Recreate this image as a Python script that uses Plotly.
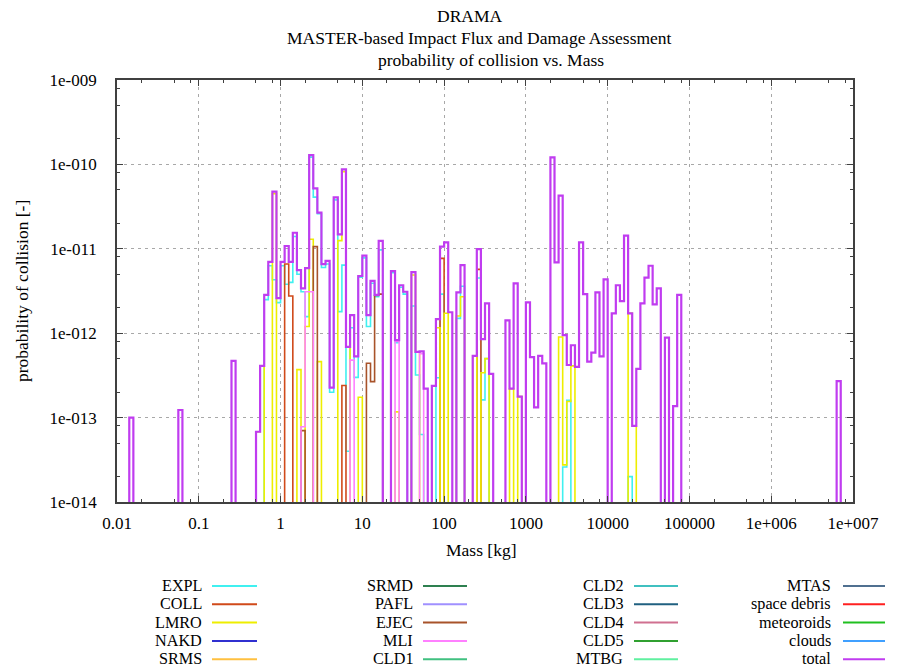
import numpy as np
import plotly.graph_objects as go

# ---------------- data ----------------
# Mass histogram: 20 logarithmic bins per decade, first bin starts at 0.01 kg.
# Each series is a list of (bin index, probability of collision [-]); empty bins = 0.
BINS_PER_DECADE = 20
MASS_MIN = 0.01
N_BINS = 180

total = [(3, 1.0e-13), (15, 1.23e-13), (28, 4.7e-13), (34, 6.8e-14), (35, 4.1e-13),
         (36, 2.84e-12), (37, 7.0e-12), (38, 4.75e-11), (39, 2.6e-12), (40, 7.0e-12),
         (41, 1.08e-11), (42, 7.0e-12), (43, 1.55e-11), (44, 5.6e-12), (45, 3.4e-12),
         (46, 5.9e-12), (47, 1.29e-10), (48, 5.2e-11), (49, 2.68e-11), (50, 6.6e-12),
         (51, 7.2e-12), (52, 2.26e-13), (53, 4.07e-11), (54, 1.48e-11), (55, 8.75e-11),
         (56, 6.9e-13), (57, 1.64e-12), (58, 5.3e-13), (59, 4.76e-12), (60, 8.3e-12),
         (61, 1.64e-12), (62, 4.16e-12), (63, 2.84e-12), (64, 1.24e-11), (67, 5.45e-12),
         (68, 8.3e-13), (69, 3.7e-12), (70, 3.1e-12), (72, 5.3e-12), (73, 6.0e-13),
         (74, 6.1e-13), (75, 2.2e-13), (77, 2.37e-13), (78, 1.47e-12), (79, 1.06e-11),
         (80, 1.19e-11), (81, 1.77e-12), (83, 3.05e-12), (84, 6.4e-12), (87, 5.4e-13),
         (88, 9.9e-12), (89, 8.5e-13), (90, 2.26e-12), (91, 3.3e-13), (95, 1.42e-12),
         (96, 2.2e-13), (97, 3.9e-12), (98, 1.77e-13), (100, 2.32e-12), (101, 5.2e-13),
         (102, 1.32e-13), (103, 5.4e-13), (104, 4.4e-13), (106, 1.21e-10), (107, 6.9e-12),
         (108, 4.26e-11), (109, 9.5e-13), (110, 4.2e-13), (111, 7.2e-13), (112, 4.0e-13),
         (113, 1.19e-11), (114, 2.9e-12), (115, 4.6e-13), (116, 5.9e-13), (117, 3.05e-12),
         (118, 5.3e-13), (119, 4.35e-12), (121, 1.72e-12), (122, 3.7e-12), (123, 2.4e-12),
         (124, 1.43e-11), (125, 1.72e-12), (126, 8.0e-14), (127, 3.77e-13), (128, 2.26e-12),
         (129, 4.55e-12), (130, 6.3e-12), (131, 2.2e-12), (132, 3.4e-12), (134, 8.85e-13),
         (136, 1.37e-13), (137, 2.84e-12), (176, 2.7e-13)]

expl = [(36, 2.5e-12), (37, 6.3e-12), (38, 4.3e-12), (39, 2.3e-12), (40, 6.3e-12),
        (41, 3.8e-12), (42, 4.0e-12), (43, 1.4e-11), (44, 5.0e-12), (45, 3.1e-12),
        (46, 1.57e-12), (47, 1.22e-10), (48, 4.1e-11), (49, 2.6e-11), (50, 6.0e-12),
        (51, 6.6e-12), (52, 2.0e-13), (53, 3.8e-11), (54, 1.8e-12), (55, 6.4e-12),
        (56, 4.0e-14), (57, 1.16e-12), (58, 3.0e-13), (59, 4.6e-12), (60, 7.8e-12),
        (61, 1.2e-12), (62, 3.9e-12), (63, 2.7e-12), (64, 9.7e-12), (67, 5.2e-12),
        (68, 7.7e-13), (69, 3.5e-12), (70, 2.9e-12), (72, 2.1e-12), (73, 3.2e-13),
        (74, 6.3e-14), (78, 2.97e-13), (79, 2.9e-12), (83, 1.5e-12), (84, 3.6e-12),
        (88, 4.5e-12), (89, 1.62e-13), (90, 5.0e-13), (109, 2.6e-14), (110, 1.6e-13),
        (125, 2.0e-14)]

coll = [(41, 6.6e-12), (42, 2.76e-12), (55, 2.4e-13), (79, 7.7e-12), (88, 5.7e-12)]

lmro = [(34, 6.8e-14), (35, 4.1e-13), (38, 4.5e-11), (44, 3.7e-13), (46, 1.2e-12),
        (47, 1.3e-11), (49, 4.6e-13), (54, 1.25e-11), (55, 8.2e-11), (56, 6.9e-13),
        (59, 1.74e-13), (68, 1.17e-13), (72, 4.9e-12), (73, 6.0e-13), (77, 2.37e-13),
        (78, 1.16e-12), (80, 1.72e-12), (83, 1.6e-12), (84, 2.7e-12), (87, 5.4e-13),
        (89, 3.4e-13), (90, 5.0e-13), (96, 2.2e-13), (98, 1.77e-13), (108, 9.0e-13),
        (109, 2.75e-14), (110, 1.55e-13), (111, 4.1e-13), (125, 1.72e-12), (126, 8.0e-14)]

ejec = [(45, 7.0e-14), (48, 1.06e-11), (61, 4.4e-13), (62, 2.67e-13), (63, 2.8e-12),
        (64, 2.9e-12)]

mli = [(45, 7.8e-14), (46, 3.1e-12), (47, 3.1e-12), (57, 4.8e-13), (68, 8.0e-13),
       (74, 5.7e-13)]

x_ticks = [0.01, 0.1, 1, 10, 100, 1000, 10000, 100000, 1e6, 1e7]
x_ticktext = ["0.01", "0.1", "1", "10", "100", "1000", "10000", "100000", "1e+006", "1e+007"]
y_ticks = [1e-14, 1e-13, 1e-12, 1e-11, 1e-10, 1e-9]
y_ticktext = ["1e-014", "1e-013", "1e-012", "1e-011", "1e-010", "1e-009"]

legend_names = [["EXPL", "COLL", "LMRO", "NAKD", "SRMS"],
                ["SRMD", "PAFL", "EJEC", "MLI", "CLD1"],
                ["CLD2", "CLD3", "CLD4", "CLD5", "MTBG"],
                ["MTAS", "space debris", "meteoroids", "clouds", "total"]]
colors = {"EXPL": "#40f0f0", "COLL": "#d04a1a", "LMRO": "#eeee00", "NAKD": "#3030d0",
          "SRMS": "#ffc040", "SRMD": "#2e8050", "PAFL": "#a090ff", "EJEC": "#a8532a",
          "MLI": "#ff80ff", "CLD1": "#40c080", "CLD2": "#40c0c0", "CLD3": "#206080",
          "CLD4": "#d07090", "CLD5": "#30a030", "MTBG": "#60f0a0", "MTAS": "#507090",
          "space debris": "#ff2020", "meteoroids": "#20c020", "clouds": "#40a0ff",
          "total": "#c03cf0"}

# ---------------- figure ----------------
W, H = 898, 669
L, R, T, B = 117, 45, 80, 167
PW, PH = W - L - R, H - T - B
FONT = "Liberation Serif, Times New Roman, serif"
TXT = 17.5
LEG = 16.2
TICK = 17
FLOOR = 1e-18

edges = MASS_MIN * 10 ** (np.arange(N_BINS + 1) / BINS_PER_DECADE)


def step_xy(pairs):
    vals = np.full(N_BINS, FLOOR)
    for k, v in pairs:
        vals[k] = v
    ks = [k for k, _ in pairs]
    lo = max(min(ks) - 1, 0)
    hi = min(max(ks) + 2, N_BINS)
    x = list(edges[lo:hi + 1])
    y = list(vals[lo:hi]) + [FLOOR]
    return x, y


fig = go.Figure()
for name, data, width in [("EXPL", expl, 1.6), ("COLL", coll, 1.6), ("LMRO", lmro, 1.6),
                          ("EJEC", ejec, 1.6), ("MLI", mli, 1.6), ("total", total, 2.2)]:
    x, y = step_xy(data)
    fig.add_trace(go.Scatter(x=x, y=y, mode="lines", name=name,
                             line=dict(color=colors[name], width=width, shape="hv"),
                             showlegend=False, hoverinfo="skip"))

minor_x = [m * 10.0 ** d for d in range(-2, 7) for m in (2, 5, 8)]
minor_y = [m * 10.0 ** d for d in range(-14, -9) for m in (2, 5, 8)]

axis_common = dict(showline=True, linecolor="#404040", linewidth=1.6, mirror="allticks",
                   ticks="inside", ticklen=6, tickwidth=1.3, tickcolor="#404040",
                   showgrid=True, gridcolor="#a8a8a8", gridwidth=1, griddash="3px,4px",
                   zeroline=False, tickfont=dict(family=FONT, size=TICK, color="black"))

fig.update_xaxes(type="log", range=[-2, 7], tickmode="array", tickvals=x_ticks,
                 ticktext=x_ticktext, ticklabelstandoff=5,
                 minor=dict(tickvals=minor_x, ticks="inside", ticklen=3, tickcolor="#404040",
                            showgrid=False), **axis_common)
fig.update_yaxes(type="log", range=[-14, -9], tickmode="array", tickvals=y_ticks,
                 ticktext=y_ticktext, ticklabelstandoff=15,
                 minor=dict(tickvals=minor_y, ticks="inside", ticklen=3, tickcolor="#404040",
                            showgrid=False), **axis_common)


def px(xp):
    return (xp - L) / PW


def py(yp):
    return (H - B - yp) / PH


ann = []
for text, xc, yc in [("DRAMA", 470, 16), ("MASTER-based Impact Flux and Damage Assessment", 479, 38),
                     ("probability of collision vs. Mass", 491, 60)]:
    ann.append(dict(text=text, x=px(xc), y=py(yc), xref="paper", yref="paper",
                    xanchor="center", yanchor="middle", showarrow=False,
                    font=dict(family=FONT, size=TXT, color="black")))
ann.append(dict(text="Mass [kg]", x=px(481), y=py(550), xref="paper", yref="paper",
                xanchor="center", yanchor="middle", showarrow=False,
                font=dict(family=FONT, size=TXT, color="black")))
ann.append(dict(text="probability of collision [-]", x=px(22), y=py(291), xref="paper",
                yref="paper", xanchor="center", yanchor="middle", showarrow=False,
                textangle=-90, font=dict(family=FONT, size=TXT, color="black")))

shapes = []
col_text_right = [203, 414, 624, 832]
col_line = [(212, 257), (423, 467), (634, 678), (843, 885)]
row_y = [586, 604.3, 622.6, 640.9, 659.2]
for c, names in enumerate(legend_names):
    for r, name in enumerate(names):
        ann.append(dict(text=name, x=px(col_text_right[c]), y=py(row_y[r]), xref="paper",
                        yref="paper", xanchor="right", yanchor="middle", showarrow=False,
                        borderpad=0, font=dict(family=FONT, size=LEG, color="black")))
        x0, x1 = col_line[c]
        shapes.append(dict(type="line", xref="paper", yref="paper", x0=px(x0), x1=px(x1),
                           y0=py(row_y[r]), y1=py(row_y[r]),
                           line=dict(color=colors[name], width=2)))

fig.update_layout(width=W, height=H, margin=dict(l=L, r=R, t=T, b=B),
                  paper_bgcolor="white", plot_bgcolor="white",
                  annotations=ann, shapes=shapes, showlegend=False,
                  font=dict(family=FONT, size=TXT, color="black"))

fig.write_html("out.html")
